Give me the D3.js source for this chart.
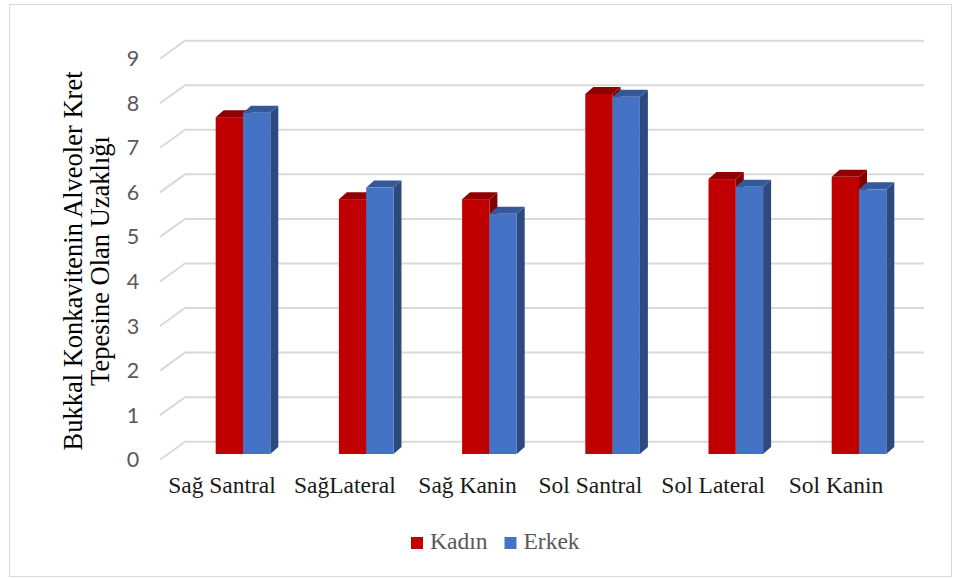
<!DOCTYPE html>
<html>
<head>
<meta charset="utf-8">
<script src="https://cdn.jsdelivr.net/npm/d3@7"></script>
<style>
  html, body { margin: 0; padding: 0; background: #fff; }
  svg { display: block; }
</style>
</head>
<body>
<svg id="chart" width="960" height="579"></svg>
<script>
// Buccal concavity to alveolar crest tip distance, by tooth region and sex
const categories = ["Sağ Santral", "SağLateral", "Sağ Kanin", "Sol Santral", "Sol Lateral", "Sol Kanin"];
const seriesNames = ["Kadın", "Erkek"];
const kadin = [7.56, 5.72, 5.72, 8.08, 6.17, 6.22];
const erkek = [7.66, 5.98, 5.39, 8.02, 6.00, 5.94];
const yTicks = [0, 1, 2, 3, 4, 5, 6, 7, 8, 9];
const yTitleLines = ["Bukkal Konkavitenin Alveoler Kret", "Tepesine Olan Uzaklığı"];

const svg = d3.select("#chart");

// outer chart frame
svg.append("rect")
  .attr("x", 9.5).attr("y", 4.5)
  .attr("width", 942).attr("height", 572)
  .attr("fill", "#fff").attr("stroke", "#d9d9d9").attr("stroke-width", 1);

// back wall value scale
const yBack = d3.scaleLinear().domain([0, 9]).range([441.7, 40.7]);
// 3D offsets: floor depth (back wall -> front edge) and bar placement
const floorDx = -25, floorDy = 18;
const barShiftY = 12.3;          // bar front face sits this far in front of the wall
const depthDx = 8, depthDy = -7; // bar depth extrusion
const wallLeft = 185, wallRight = 924;

// group centres of the bar pairs and of the category labels on the floor edge
const xBars = d3.scalePoint().domain(categories).range([243, 859]);
const xLabels = d3.scalePoint().domain(categories).range([222, 836]);
const barW = 27.3;

// gridlines: floor diagonal + back wall line
const grid = svg.append("g");
yTicks.forEach(v => {
  const yb = yBack(v);
  grid.append("path")
    .attr("d", `M${wallLeft + floorDx},${yb + floorDy}L${wallLeft},${yb}L${wallRight},${yb}`)
    .attr("fill", "none")
    .attr("stroke", "#d9d9d9")
    .attr("stroke-width", 2);
});

// tick labels on the front floor edge
svg.append("g").selectAll("text")
  .data(yTicks).join("text")
  .attr("x", 133)
  .attr("y", d => yBack(d) + floorDy)
  .attr("dy", "0.35em")
  .attr("text-anchor", "middle")
  .attr("font-family", "Lato, 'Open Sans', sans-serif")
  .attr("font-size", 21.5)
  .attr("fill", "#595959")
  .text(d => d);

// bars
const palette = {
  "Kadın": { front: "#c00000", top: "#900000", side: "#820000" },
  "Erkek": { front: "#4472c4", top: "#34599b", side: "#2c4a80" }
};
const yBar = v => yBack(v) + barShiftY;
const bars = svg.append("g");
categories.forEach((cat, i) => {
  const vals = [kadin[i], erkek[i]];
  vals.forEach((v, s) => {
    const c = palette[seriesNames[s]];
    const x0 = xBars(cat) - barW + s * barW;
    const x1 = x0 + barW;
    const yt = yBar(v), yb = yBar(0);
    const g = bars.append("g");
    g.append("path")
      .attr("d", `M${x1},${yt}L${x1 + depthDx},${yt + depthDy}L${x1 + depthDx},${yb + depthDy}L${x1},${yb}Z`)
      .attr("fill", c.side);
    g.append("path")
      .attr("d", `M${x0},${yt}L${x0 + depthDx},${yt + depthDy}L${x1 + depthDx},${yt + depthDy}L${x1},${yt}Z`)
      .attr("fill", c.top);
    g.append("rect")
      .attr("x", x0).attr("y", yt)
      .attr("width", barW).attr("height", yb - yt)
      .attr("fill", c.front);
  });
});

// category labels
svg.append("g").selectAll("text")
  .data(categories).join("text")
  .attr("x", d => xLabels(d))
  .attr("y", 493)
  .attr("text-anchor", "middle")
  .attr("font-family", "'Liberation Serif', 'Times New Roman', serif")
  .attr("font-size", 23.5)
  .attr("fill", "#1a1a1a")
  .text(d => d);

// y axis title (two lines, rotated)
const yTitle = svg.append("text")
  .attr("transform", "translate(0,261) rotate(-90)")
  .attr("text-anchor", "middle")
  .attr("font-family", "'Liberation Serif', 'Times New Roman', serif")
  .attr("font-size", 26.5)
  .attr("fill", "#000");
yTitleLines.forEach((line, k) => {
  yTitle.append("tspan")
    .attr("x", 0)
    .attr("y", 82 + k * 27)
    .text(line);
});

// legend
const legend = svg.append("g");
const legendItems = [
  { name: "Kadın", x: 411 },
  { name: "Erkek", x: 504.5 }
];
legendItems.forEach(it => {
  legend.append("rect")
    .attr("x", it.x).attr("y", 537)
    .attr("width", 12).attr("height", 12)
    .attr("fill", palette[it.name].front);
  legend.append("text")
    .attr("x", it.x + 19).attr("y", 549)
    .attr("font-family", "'Liberation Serif', 'Times New Roman', serif")
    .attr("font-size", 23.5)
    .attr("fill", "#595959")
    .text(it.name);
});
</script>
</body>
</html>
